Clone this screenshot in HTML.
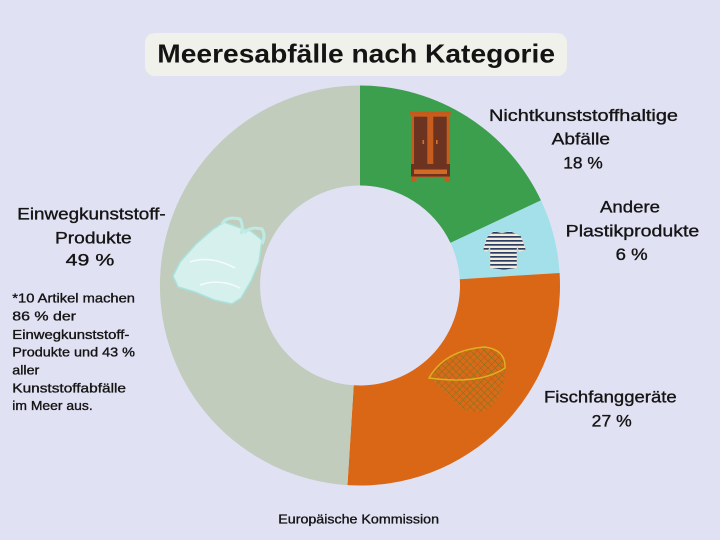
<!DOCTYPE html>
<html><head><meta charset="utf-8"><style>
html,body{margin:0;padding:0;background:#e1e1f4;}
svg{display:block;}
text{font-family:"Liberation Sans",sans-serif;fill:#141414;}
.s{stroke:#141414;stroke-width:0.35;}
</style></head><body>
<svg width="720" height="540" viewBox="0 0 720 540" xmlns="http://www.w3.org/2000/svg">
<defs>
<pattern id="stripes" width="4" height="4" patternUnits="userSpaceOnUse">
<rect width="4" height="4" fill="#f1ecdc"/><rect width="4" height="1.7" fill="#2c3d63"/>
</pattern>
<pattern id="mesh" width="5" height="5" patternUnits="userSpaceOnUse" patternTransform="rotate(45)">
<rect width="5" height="5" fill="#d86a18"/>
<path d="M0 0H5M0 0V5" stroke="#7a7420" stroke-width="0.9"/>
</pattern>
</defs>
<rect width="720" height="540" fill="#e1e1f4"/>
<!-- title -->
<rect x="145" y="33" width="422" height="43" rx="10" fill="#f0f1ea"/>
<text x="157.3" y="62.7" font-size="26" font-weight="bold" textLength="397.7" lengthAdjust="spacingAndGlyphs">Meeresabfälle nach Kategorie</text>

<!-- donut -->
<path d="M360,85.5 A200,200 0 0 1 540.97,200.34 L450.48,242.92 A100,100 0 0 0 360,185.5 Z" fill="#3c9f4d"/>
<path d="M540.97,200.34 A200,200 0 0 1 559.61,272.94 L459.80,279.22 A100,100 0 0 0 450.48,242.92 Z" fill="#a4e0ea"/>
<path d="M559.61,272.94 A200,200 0 0 1 347.44,485.11 L353.72,385.30 A100,100 0 0 0 459.80,279.22 Z" fill="#da6716"/>
<path d="M347.44,485.11 A200,200 0 0 1 360,85.5 L360,185.5 A100,100 0 0 0 353.72,385.30 Z" fill="#c1ccbd"/>

<!-- wardrobe -->
<rect x="410" y="111.7" width="40.7" height="3" fill="#c55a1c"/>
<rect x="411" y="114" width="39" height="54" fill="#c65c1e"/>
<rect x="414" y="116.7" width="13.3" height="47.3" fill="#6b3320"/>
<rect x="433.3" y="116.7" width="13.4" height="47.3" fill="#6b3320"/>
<rect x="422.5" y="140" width="1.6" height="4" fill="#d8702a"/>
<rect x="436" y="140" width="1.6" height="4" fill="#d8702a"/>
<rect x="411" y="164" width="39" height="13" fill="#6b3320"/>
<rect x="414" y="169.5" width="33" height="4.5" fill="#d06a24"/>
<rect x="411" y="176.5" width="39" height="1.5" fill="#c65c1e"/>
<rect x="411" y="177" width="5.5" height="4.7" fill="#c65c1e"/>
<rect x="444.5" y="177" width="5.5" height="4.7" fill="#c65c1e"/>

<!-- shirt -->
<path d="M494,231 L502,233 L510,231 L521,236 L526,250 L519,252 L517,246 L517,268 L504,270 L490,268 L490,247 L487,252 L483,250 L487,237 Z" fill="url(#stripes)" stroke="#d8d2c0" stroke-width="0.5"/>

<!-- fishing net -->
<path d="M429,378 Q445,350 485,347 Q506,350 505,368 Q506,395 488,410 Q475,415 462,408 Q448,395 429,378 Z" fill="url(#mesh)"/>
<path d="M429,378 Q445,350 485,347 Q506,350 505,368 Q480,385 429,378 Z" fill="none" stroke="#e0b020" stroke-width="1.4"/>

<!-- plastic bag -->
<path d="M173,276 L180,262 L196,244 L212,230 L224,222 L238,227 L251,231 L262,240 L259,262 L251,281 L241,298 L232,304 L214,300 L195,292 L178,287 Z" fill="#d6f0ee" stroke="#a8e2da" stroke-width="1.5"/>
<path d="M222,224 Q226,216 240,219 Q244,226 241,234" fill="none" stroke="#bfeae4" stroke-width="3"/>
<path d="M244,233 Q250,226 262,229 Q266,236 262,244" fill="none" stroke="#bfeae4" stroke-width="3"/>
<path d="M190,262 Q210,255 235,268 M200,285 Q220,278 240,288" fill="none" stroke="#f4fcfb" stroke-width="1.5"/>

<!-- right labels -->
<g font-size="16.5" class="s">
<text class="s" x="489" y="121" textLength="189" lengthAdjust="spacingAndGlyphs">Nichtkunststoffhaltige</text>
<text class="s" x="551.7" y="144.3" textLength="58.3" lengthAdjust="spacingAndGlyphs">Abfälle</text>
<text class="s" x="563.3" y="168.3" textLength="39.4" lengthAdjust="spacingAndGlyphs">18 %</text>
<text class="s" x="600" y="212.3" textLength="60" lengthAdjust="spacingAndGlyphs">Andere</text>
<text class="s" x="565.7" y="236.3" textLength="133.6" lengthAdjust="spacingAndGlyphs">Plastikprodukte</text>
<text class="s" x="615.7" y="260" textLength="32" lengthAdjust="spacingAndGlyphs">6 %</text>
<text class="s" x="544" y="402.7" textLength="132.7" lengthAdjust="spacingAndGlyphs">Fischfanggeräte</text>
<text class="s" x="591.7" y="426.7" textLength="40" lengthAdjust="spacingAndGlyphs">27 %</text>
<text class="s" x="17.3" y="219.3" textLength="148.4" lengthAdjust="spacingAndGlyphs">Einwegkunststoff-</text>
<text class="s" x="55" y="243.3" textLength="76.7" lengthAdjust="spacingAndGlyphs">Produkte</text>
<text class="s" x="65.7" y="265.7" textLength="48.6" lengthAdjust="spacingAndGlyphs">49 %</text>
</g>

<!-- footnote -->
<g font-size="13">
<text class="s" x="12.3" y="302.7" textLength="122.7" lengthAdjust="spacingAndGlyphs">*10 Artikel machen</text>
<text class="s" x="12.3" y="320.7" textLength="63.7" lengthAdjust="spacingAndGlyphs">86 % der</text>
<text class="s" x="12.3" y="339" textLength="117" lengthAdjust="spacingAndGlyphs">Einwegkunststoff-</text>
<text class="s" x="12.3" y="356.7" textLength="122.7" lengthAdjust="spacingAndGlyphs">Produkte und 43 %</text>
<text class="s" x="12.3" y="374.3" textLength="27" lengthAdjust="spacingAndGlyphs">aller</text>
<text class="s" x="12.3" y="392.7" textLength="113.7" lengthAdjust="spacingAndGlyphs">Kunststoffabfälle</text>
<text class="s" x="12.3" y="410" textLength="80.4" lengthAdjust="spacingAndGlyphs">im Meer aus.</text>
</g>

<text class="s" x="278.3" y="523.3" font-size="13" textLength="160.7" lengthAdjust="spacingAndGlyphs">Europäische Kommission</text>
</svg>
</body></html>
